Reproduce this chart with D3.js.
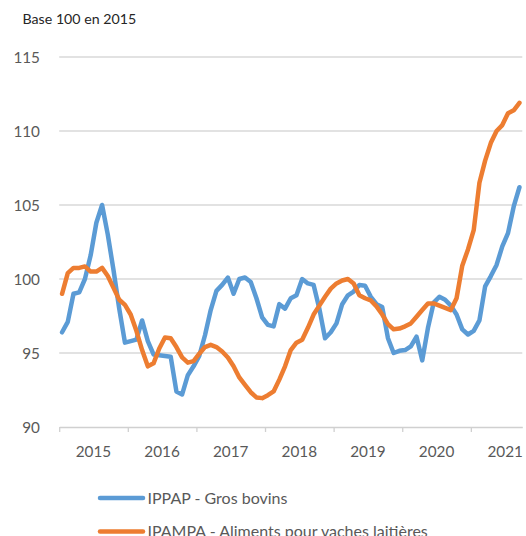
<!DOCTYPE html>
<html>
<head>
<meta charset="utf-8">
<script src="https://cdn.jsdelivr.net/npm/d3@7"></script>
<style>
  html, body { margin: 0; padding: 0; background: #ffffff; }
  svg { display: block; }
</style>
</head>
<body>
<svg id="chart" width="526" height="536"></svg>
<script>
// Monthly series, Jan 2015 -> Sep 2021
const yearLabels = ["2015", "2016", "2017", "2018", "2019", "2020", "2021"];
const yTicks = [90, 95, 100, 105, 110, 115];
const seriesNames = ["IPPAP - Gros bovins", "IPAMPA - Aliments pour vaches laitières"];
const seriesColors = ["#5B9BD5", "#ED7D31"];

const ippapGrosBovins = [
  96.4, 97.1, 99.0, 99.1, 100.0, 101.6, 103.8, 105.0, 103.0, 100.6, 98.0, 95.7,
  95.8, 95.9, 97.2, 95.8, 94.9, 94.85, 94.8, 94.75, 92.4, 92.2, 93.5, 94.1,
  94.8, 96.2, 97.9, 99.2, 99.6, 100.1, 99.0, 100.0, 100.1, 99.8, 98.7, 97.4,
  96.9, 96.8, 98.3, 98.0, 98.7, 98.9, 100.0, 99.7, 99.6, 98.0, 96.0, 96.4,
  97.0, 98.3, 98.9, 99.15, 99.6, 99.55, 98.8, 98.3, 98.1, 96.0, 95.0, 95.15,
  95.2, 95.45, 96.1, 94.5, 96.7, 98.4, 98.8, 98.6, 98.2, 97.6, 96.6, 96.25,
  96.5, 97.2, 99.5, 100.2, 100.95, 102.2, 103.1, 104.9, 106.2
];
const ipampaVachesLaitieres = [
  99.0, 100.4, 100.75, 100.75, 100.85, 100.5, 100.5, 100.75, 100.2, 99.4, 98.6, 98.25,
  97.6, 96.5, 95.2, 94.1, 94.3, 95.3, 96.05, 96.0, 95.4, 94.7, 94.35, 94.45,
  94.95, 95.4, 95.55, 95.4, 95.1, 94.7, 94.1, 93.35, 92.85, 92.35, 92.0, 91.95,
  92.15, 92.4, 93.2, 94.1, 95.2, 95.7, 95.9, 96.7, 97.6, 98.2, 98.8, 99.35,
  99.7, 99.9, 100.0, 99.7, 98.9, 98.7, 98.55, 98.15, 97.6, 96.95, 96.6, 96.65,
  96.8, 97.0, 97.45, 97.9, 98.35, 98.35, 98.2, 98.05, 97.9, 98.7, 100.9, 102.0,
  103.3, 106.5, 108.0, 109.2, 110.0, 110.4, 111.2, 111.4, 111.9
];
const allSeries = [ippapGrosBovins, ipampaVachesLaitieres];

const svg = d3.select("#chart");
const nMonths = ippapGrosBovins.length;

const x = d3.scaleLinear().domain([0, nMonths]).range([59.2, 522.3]);
const y = d3.scaleLinear().domain([90, 115]).range([427, 57]);

const FONT = "Lato, 'Open Sans', sans-serif";

// Title
svg.append("text")
  .attr("x", 22.5).attr("y", 24.3)
  .attr("font-family", FONT).attr("font-size", 14.2)
  .attr("fill", "#262626")
  .text("Base 100 en 2015");

// Gridlines
svg.append("g").selectAll("line")
  .data(yTicks.filter(d => d !== 90))
  .join("line")
  .attr("x1", x(0)).attr("x2", x(nMonths))
  .attr("y1", d => y(d)).attr("y2", d => y(d))
  .attr("stroke", "#d9d9d9").attr("stroke-width", 1.3);

// Y labels
svg.append("g").selectAll("text")
  .data(yTicks)
  .join("text")
  .attr("x", 40).attr("y", d => y(d))
  .attr("dy", "0.36em")
  .attr("text-anchor", "end")
  .attr("font-family", FONT).attr("font-size", 15.3)
  .attr("fill", "#595959")
  .text(d => d);

// X axis
const xAxis = d3.axisBottom(x)
  .tickValues(d3.range(0, nMonths, 12))
  .tickFormat("")
  .tickSize(5)
  .tickSizeOuter(0);
const gx = svg.append("g").attr("transform", `translate(0,${y(90)})`).call(xAxis);
gx.select(".domain").attr("stroke", "#d0d0d0").attr("stroke-width", 1.3);
gx.selectAll(".tick line").attr("stroke", "#d0d0d0").attr("stroke-width", 1.3);

svg.append("g").selectAll("text")
  .data(yearLabels)
  .join("text")
  .attr("x", (d, i) => x(i * 12 + 6))
  .attr("y", 457)
  .attr("text-anchor", "middle")
  .attr("font-family", FONT).attr("font-size", 15.3)
  .attr("fill", "#595959")
  .text(d => d);

// Lines
const line = d3.line()
  .x((d, i) => x(i + 0.5))
  .y(d => y(d));

svg.append("g").selectAll("path")
  .data(allSeries)
  .join("path")
  .attr("d", d => line(d))
  .attr("fill", "none")
  .attr("stroke", (d, i) => seriesColors[i])
  .attr("stroke-width", 4.5)
  .attr("stroke-linejoin", "round")
  .attr("stroke-linecap", "round");

// Legend
const legendY = [498, 531.5];
const lg = svg.append("g").selectAll("g")
  .data(seriesNames)
  .join("g")
  .attr("transform", (d, i) => `translate(0,${legendY[i]})`);
lg.append("line")
  .attr("x1", 100).attr("x2", 143)
  .attr("y1", 0).attr("y2", 0)
  .attr("stroke", (d, i) => seriesColors[i])
  .attr("stroke-width", 4.5)
  .attr("stroke-linecap", "round");
lg.append("text")
  .attr("x", 147.5).attr("y", 0)
  .attr("dy", "0.36em")
  .attr("font-family", FONT).attr("font-size", 16)
  .attr("fill", "#595959")
  .text(d => d);
</script>
</body>
</html>
